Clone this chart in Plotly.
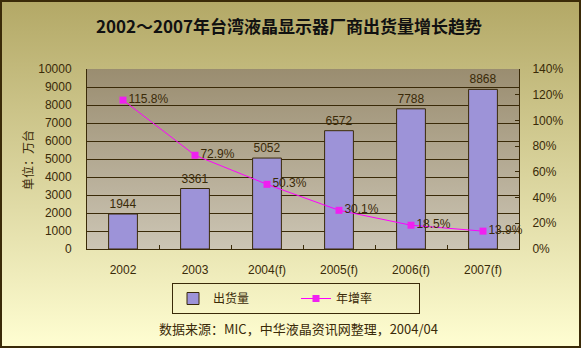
import base64
import plotly.graph_objects as go

# Shipment data (unit: 10k units) and yearly growth rate (%)
years = ["2002", "2003", "2004(f)", "2005(f)", "2006(f)", "2007(f)"]
shipments = [1944, 3361, 5052, 6572, 7788, 8868]
growth = [115.8, 72.9, 50.3, 30.1, 18.5, 13.9]

title_text = "2002～2007年台湾液晶显示器厂商出货量增长趋势"
y_title = "单位：万台"
source_text = "数据来源：MIC，中华液晶资讯网整理，2004/04"

W, H = 581, 348
ML, MR, MT, MB = 87, 62, 69, 99
PW, PH = W - ML - MR, H - MT - MB

INK = "#3a2a08"
CJK = "Noto Sans CJK SC"
LAT = "Liberation Sans"


def gradient_svg(top, bottom):
    svg = (
        '<svg xmlns="http://www.w3.org/2000/svg" width="10" height="100" preserveAspectRatio="none">'
        '<defs><linearGradient id="g" x1="0" y1="0" x2="0" y2="1">'
        f'<stop offset="0" stop-color="{top}"/><stop offset="1" stop-color="{bottom}"/>'
        '</linearGradient></defs><rect width="10" height="100" fill="url(#g)"/></svg>'
    )
    return "data:image/svg+xml;base64," + base64.b64encode(svg.encode()).decode()


fig = go.Figure()

fig.add_trace(go.Bar(
    x=years, y=shipments, name="出货量",
    width=0.4,
    marker=dict(color="#9d93d8", line=dict(color=INK, width=1)),
    text=[str(v) for v in shipments], textposition="outside",
    textfont=dict(family=LAT, size=12, color=INK),
    cliponaxis=False,
))

fig.add_trace(go.Scatter(
    x=years, y=growth, name="年增率", yaxis="y2",
    mode="lines+markers+text",
    line=dict(color="#ff00ff", width=1),
    marker=dict(symbol="square", size=7, color="#f020f0"),
    text=[f"{v}%" for v in growth], textposition="middle right",
    textfont=dict(family=LAT, size=12, color=INK),
    cliponaxis=False,
))

# Full-page and plot-area gradient backgrounds
fig.add_layout_image(dict(
    source=gradient_svg("#b3a866", "#fffed2"),
    xref="paper", yref="paper",
    x=-ML / PW, y=1 + MT / PH, sizex=W / PW, sizey=H / PH,
    xanchor="left", yanchor="top", sizing="stretch", layer="below",
))
fig.add_layout_image(dict(
    source=gradient_svg("#9a8d70", "#ccc5b4"),
    xref="x domain", yref="y domain",
    x=0, y=1, sizex=1, sizey=1,
    xanchor="left", yanchor="top", sizing="stretch", layer="below",
))

# Outer frame
fig.add_shape(type="rect", xref="paper", yref="paper",
              x0=-ML / PW + 1 / PW, x1=1 + (MR - 1) / PW,
              y0=-MB / PH + 1 / PH, y1=1 + (MT - 1) / PH,
              line=dict(color=INK, width=2), layer="above")

fig.add_annotation(text=y_title, xref="paper", yref="paper",
                   x=-(ML - 27) / PW, y=(249 - 160) / PH,
                   xanchor="center", yanchor="middle",
                   textangle=-90, showarrow=False,
                   font=dict(family=CJK, size=12, color=INK))
fig.add_annotation(text=source_text, xref="paper", yref="paper",
                   x=(298 - ML) / PW, y=(249 - 328) / PH,
                   xanchor="center", yanchor="middle",
                   showarrow=False,
                   font=dict(family=CJK, size=13, color=INK))

fig.update_layout(
    width=W, height=H,
    margin=dict(l=ML, r=MR, t=MT, b=MB, pad=0),
    paper_bgcolor="#d8d29a", plot_bgcolor="rgba(0,0,0,0)",
    title=dict(text=f"<b>{title_text}</b>", x=289 / W, xanchor="center",
               y=1 - 27 / H, yanchor="middle", yref="container",
               font=dict(family=CJK, size=17, color="#111")),
    showlegend=True,
    legend=dict(orientation="h", x=(296 - ML) / PW, xanchor="center",
                y=(249 - 298.5) / PH, yanchor="middle",
                bgcolor="rgba(0,0,0,0)", bordercolor=INK, borderwidth=1,
                entrywidth=78, font=dict(family=CJK, size=12, color=INK)),
    bargap=0.6,
    xaxis=dict(
        showline=True, linecolor=INK, linewidth=1,
        ticks="inside", tickson="boundaries", ticklen=4, tickcolor=INK,
        ticklabelstandoff=10,
        tickfont=dict(family=LAT, size=12, color=INK),
        showgrid=False,
    ),
    yaxis=dict(
        range=[0, 10000], dtick=1000, tickformat="d",
        showline=True, linecolor=INK, linewidth=1, mirror=False,
        showgrid=True, gridcolor=INK, gridwidth=1,
        ticks="", ticklabelstandoff=12,
        tickfont=dict(family=LAT, size=12, color=INK),
        zeroline=False,
    ),
    yaxis2=dict(
        range=[0, 140], dtick=20, ticksuffix="%",
        overlaying="y", side="right",
        showline=True, linecolor=INK, linewidth=1,
        showgrid=False, zeroline=False,
        ticks="inside", ticklen=4, tickcolor=INK,
        ticklabelstandoff=10,
        tickfont=dict(family=LAT, size=12, color=INK),
    ),
)

fig.write_html("out.html")
